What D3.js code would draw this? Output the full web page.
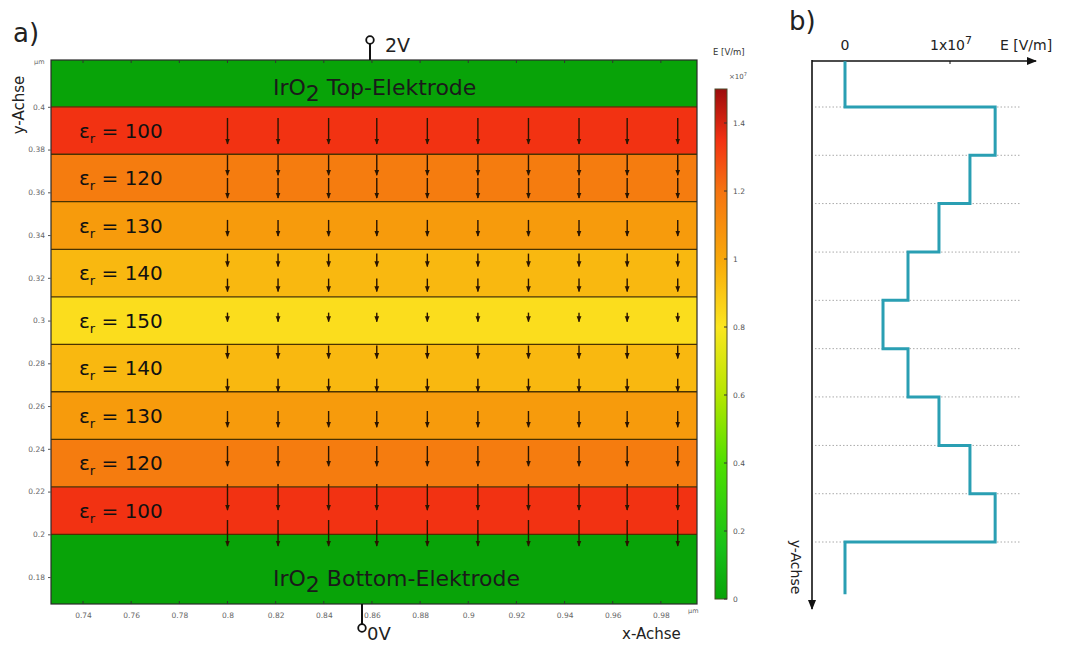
<!DOCTYPE html>
<html><head><meta charset="utf-8">
<script src="https://cdn.jsdelivr.net/npm/d3@7"></script>
<style>body{margin:0;background:#fff;} svg{display:block;font-family:"DejaVu Sans",sans-serif;}</style>
</head><body><svg id="c" width="1069" height="645"></svg>
<script>
// ---------- data ----------
const epsValues   = [100, 120, 130, 140, 150, 140, 130, 120, 100];
const layerBounds = [0.4, 0.3778, 0.3556, 0.3333, 0.3111, 0.2889, 0.2667, 0.2444, 0.2222, 0.2]; // µm
const layerField  = [1.35, 1.17, 1.05, 0.95, 0.83, 0.95, 1.05, 1.17, 1.35]; // E in 1e7 V/m (colour)
const xTicks  = [0.74, 0.76, 0.78, 0.8, 0.82, 0.84, 0.86, 0.88, 0.9, 0.92, 0.94, 0.96, 0.98];
const yTicks  = [0.18, 0.2, 0.22, 0.24, 0.26, 0.28, 0.3, 0.32, 0.34, 0.36, 0.38, 0.4];
const cbTicks = [0, 0.2, 0.4, 0.6, 0.8, 1, 1.2, 1.4];
const arrowX  = [0.8, 0.821, 0.842, 0.862, 0.883, 0.904, 0.925, 0.946, 0.966, 0.987];
const arrowY  = [0.3887, 0.3727, 0.362, 0.3433, 0.3283, 0.3166, 0.3016, 0.2853, 0.2698, 0.2539, 0.2366, 0.2174, 0.2006];
const profileE = [0, 1.43, 1.19, 0.895, 0.60, 0.362, 0.60, 0.895, 1.19, 1.43, 0]; // panel b, 1e7 V/m
const profileBounds = [0.421, 0.4, 0.3778, 0.3556, 0.3333, 0.3111, 0.2889, 0.2667, 0.2444, 0.2222, 0.2, 0.176];
const cmapStops  = [0, 0.15, 0.4, 0.6, 0.8, 1.0, 1.2, 1.35, 1.5];
const cmapColors = ["#08a308", "#18c018", "#4fdf00", "#b4e600", "#fbe620", "#f8a80a", "#f57410", "#f23212", "#9c0c0c"];

// ---------- setup ----------
const svg = d3.select("#c");
const cmap = d3.scaleLinear().domain(cmapStops).range(cmapColors).interpolate(d3.interpolateRgb);
const x = d3.scaleLinear().domain([0.7267, 0.995]).range([51, 697]);
const y = d3.scaleLinear().domain([0.4219, 0.1674]).range([60, 604]);
const cb = d3.scaleLinear().domain([0, 1.5]).range([599, 89]);
const lenScale = d3.scaleLinear().domain([0.83, 1.35]).range([9, 26]);

const defs = svg.append("defs");
defs.append("marker").attr("id", "ah").attr("viewBox", "0 0 10 10").attr("refX", 9).attr("refY", 5)
  .attr("markerWidth", 10).attr("markerHeight", 10).attr("markerUnits", "userSpaceOnUse").attr("orient", "auto")
  .append("path").attr("d", "M0,1 L10,5 L0,9 Z").attr("fill", "#111");
defs.append("marker").attr("id", "ahs").attr("viewBox", "0 0 10 10").attr("refX", 9).attr("refY", 5)
  .attr("markerWidth", 6).attr("markerHeight", 6).attr("markerUnits", "userSpaceOnUse").attr("orient", "auto")
  .append("path").attr("d", "M0,1 L10,5 L0,9 Z").attr("fill", "#2a1500");

// ---------- panel a ----------
const pa = svg.append("g");
pa.append("rect").attr("x", x.range()[0]).attr("y", y(y.domain()[0])).attr("width", x.range()[1] - x.range()[0])
  .attr("height", y(0.4) - y(y.domain()[0])).attr("fill", cmap(0));
pa.append("rect").attr("x", x.range()[0]).attr("y", y(0.2)).attr("width", x.range()[1] - x.range()[0])
  .attr("height", y(y.domain()[1]) - y(0.2)).attr("fill", cmap(0));
pa.selectAll("rect.layer").data(epsValues).join("rect").attr("class", "layer")
  .attr("x", x.range()[0]).attr("width", x.range()[1] - x.range()[0])
  .attr("y", (d, i) => y(layerBounds[i])).attr("height", (d, i) => y(layerBounds[i + 1]) - y(layerBounds[i]))
  .attr("fill", (d, i) => cmap(layerField[i]));
pa.selectAll("line.bd").data(layerBounds).join("line").attr("class", "bd")
  .attr("x1", x.range()[0]).attr("x2", x.range()[1]).attr("y1", d => y(d)).attr("y2", d => y(d))
  .attr("stroke", "#4a3200").attr("stroke-width", 1.3);

function layerIndex(v) {
  for (let i = 0; i < epsValues.length; i++) if (v <= layerBounds[i] && v >= layerBounds[i + 1]) return i;
  return v > 0.4 ? 0 : epsValues.length - 1;
}
const arrows = [];
arrowY.forEach(yy => arrowX.forEach(xx => arrows.push({ x: xx, y: yy, L: lenScale(layerField[layerIndex(yy)]) })));
pa.selectAll("line.ar").data(arrows).join("line").attr("class", "ar")
  .attr("x1", d => x(d.x)).attr("x2", d => x(d.x))
  .attr("y1", d => y(d.y) - d.L / 2).attr("y2", d => y(d.y) + d.L / 2)
  .attr("stroke", "#2a1500").attr("stroke-width", 1.4).attr("marker-end", "url(#ahs)");

epsValues.forEach((e, i) => {
  const cy = y((layerBounds[i] + layerBounds[i + 1]) / 2);
  const t = pa.append("text").attr("x", 79).attr("y", cy + 7).attr("font-size", 20).attr("fill", "#111");
  t.append("tspan").text("ε");
  t.append("tspan").attr("font-size", 13).attr("dy", 5).text("r");
  t.append("tspan").attr("dy", -5).text(" = " + e);
});
[["Top-Elektrode", y(0.4) - 12], ["Bottom-Elektrode", y(0.2) + 52]].forEach(([s, yy]) => {
  const t = pa.append("text").attr("x", 273).attr("y", yy).attr("font-size", 22).attr("fill", "#1a1a1a");
  t.append("tspan").text("IrO");
  t.append("tspan").attr("dy", 6).text("2");
  t.append("tspan").attr("dy", -6).text(" " + s);
});

pa.append("rect").attr("x", x.range()[0]).attr("y", y.range()[0]).attr("width", x.range()[1] - x.range()[0])
  .attr("height", y.range()[1] - y.range()[0]).attr("fill", "none").attr("stroke", "#2a2a2a").attr("stroke-width", 1.2);

const xAxis = pa.append("g").attr("transform", `translate(0,${y.range()[1]})`)
  .call(d3.axisBottom(x).tickValues(xTicks).tickSize(0).tickPadding(9).tickFormat(d3.format("")));
const yAxis = pa.append("g").attr("transform", `translate(${x.range()[0]},0)`)
  .call(d3.axisLeft(y).tickValues(yTicks).tickSize(3).tickPadding(3).tickFormat(d3.format("")));
[xAxis, yAxis].forEach(g => {
  g.select(".domain").remove();
  g.selectAll("text").attr("font-size", 7.5).attr("fill", "#666").attr("font-family", "DejaVu Sans");
  g.selectAll("line").attr("stroke", "#555");
});
pa.selectAll("line.tt").data(xTicks).join("line").attr("class", "tt")
  .attr("x1", d => x(d)).attr("x2", d => x(d)).attr("y1", y.range()[0]).attr("y2", y.range()[0] + 3).attr("stroke", "#333");
pa.selectAll("line.tb").data(xTicks).join("line").attr("class", "tb")
  .attr("x1", d => x(d)).attr("x2", d => x(d)).attr("y1", y.range()[1]).attr("y2", y.range()[1] - 3).attr("stroke", "#333");

pa.append("text").attr("x", 34).attr("y", 64).attr("font-size", 6.5).attr("fill", "#666").text("µm");
pa.append("text").attr("x", 688).attr("y", 613).attr("font-size", 6.5).attr("fill", "#666").text("µm");
pa.append("text").attr("x", 622).attr("y", 639).attr("font-size", 15).attr("fill", "#222").text("x-Achse");
pa.append("text").attr("transform", "translate(24,105) rotate(-90)").attr("text-anchor", "middle")
  .attr("font-size", 15).attr("fill", "#222").text("y-Achse");
pa.append("text").attr("x", 13).attr("y", 42).attr("font-size", 26).attr("fill", "#222").text("a)");

pa.append("line").attr("x1", 370).attr("x2", 370).attr("y1", 44).attr("y2", y.range()[0]).attr("stroke", "#111").attr("stroke-width", 2);
pa.append("circle").attr("cx", 370).attr("cy", 40).attr("r", 3.8).attr("fill", "#fff").attr("stroke", "#111").attr("stroke-width", 1.8);
pa.append("text").attr("x", 385).attr("y", 52).attr("font-size", 19).attr("fill", "#222").text("2V");
pa.append("line").attr("x1", 362).attr("x2", 362).attr("y1", y.range()[1]).attr("y2", 624).attr("stroke", "#111").attr("stroke-width", 2);
pa.append("circle").attr("cx", 362).attr("cy", 628).attr("r", 3.8).attr("fill", "#fff").attr("stroke", "#111").attr("stroke-width", 1.8);
pa.append("text").attr("x", 367).attr("y", 640).attr("font-size", 18).attr("fill", "#222").text("0V");

const grad = defs.append("linearGradient").attr("id", "cbg").attr("x1", 0).attr("x2", 0).attr("y1", 1).attr("y2", 0);
d3.range(0, 1.5001, 0.05).forEach(v => grad.append("stop").attr("offset", v / 1.5).attr("stop-color", cmap(v)));
pa.append("rect").attr("x", 715).attr("y", cb(1.5)).attr("width", 12).attr("height", cb(0) - cb(1.5))
  .attr("fill", "url(#cbg)").attr("stroke", "#4a4a2a").attr("stroke-width", 1);
const cbAxis = pa.append("g").attr("transform", "translate(727,0)")
  .call(d3.axisRight(cb).tickValues(cbTicks).tickSize(0).tickPadding(6).tickFormat(d3.format("")));
cbAxis.select(".domain").remove();
cbAxis.selectAll("text").attr("font-size", 7.5).attr("fill", "#555").attr("font-family", "DejaVu Sans");
pa.selectAll("line.cbt").data(cbTicks).join("line").attr("class", "cbt")
  .attr("x1", 724).attr("x2", 727).attr("y1", d => cb(d)).attr("y2", d => cb(d)).attr("stroke", "#333");
pa.append("text").attr("x", 713).attr("y", 55).attr("font-size", 8.5).attr("fill", "#333").text("E [V/m]");
const t7 = pa.append("text").attr("x", 729).attr("y", 79).attr("font-size", 7).attr("fill", "#555");
t7.append("tspan").text("×10");
t7.append("tspan").attr("dy", -3).attr("font-size", 5).text("7");

// ---------- panel b ----------
const pb = svg.append("g");
const xb = d3.scaleLinear().domain([0, 1]).range([845, 950]);
const yb = d3.scaleLinear().domain([0.4, 0.2]).range([107, 542]);
pb.append("text").attr("x", 789).attr("y", 30).attr("font-size", 26).attr("fill", "#222").text("b)");
pb.selectAll("line.dg").data(layerBounds).join("line").attr("class", "dg")
  .attr("x1", 815).attr("x2", 1020).attr("y1", d => yb(d)).attr("y2", d => yb(d))
  .attr("stroke", "#aaa").attr("stroke-width", 1).attr("stroke-dasharray", "1.5,2");
pb.append("line").attr("x1", 812).attr("x2", 1036).attr("y1", 61).attr("y2", 61).attr("stroke", "#111").attr("stroke-width", 1.6).attr("marker-end", "url(#ah)");
pb.append("line").attr("x1", 812).attr("x2", 812).attr("y1", 60).attr("y2", 609).attr("stroke", "#111").attr("stroke-width", 1.6).attr("marker-end", "url(#ah)");
pb.append("line").attr("x1", xb(1)).attr("x2", xb(1)).attr("y1", 61).attr("y2", 64).attr("stroke", "#111");
pb.append("text").attr("x", xb(0)).attr("y", 50).attr("text-anchor", "middle").attr("font-size", 14).attr("fill", "#222").text("0");
const t1 = pb.append("text").attr("x", xb(1) + 1).attr("y", 50).attr("text-anchor", "middle").attr("font-size", 14).attr("fill", "#222");
t1.append("tspan").text("1x10");
t1.append("tspan").attr("dy", -6).attr("font-size", 11).text("7");
pb.append("text").attr("x", 1000).attr("y", 50).attr("font-size", 14).attr("fill", "#222").text("E [V/m]");
pb.append("text").attr("transform", "translate(791,567) rotate(90)").attr("text-anchor", "middle")
  .attr("font-size", 14).attr("fill", "#222").text("y-Achse");
const pts = [];
profileE.forEach((e, i) => { pts.push([e, profileBounds[i]]); pts.push([e, profileBounds[i + 1]]); });
pb.append("path").datum(pts).attr("fill", "none").attr("stroke", "#2a9fb3").attr("stroke-width", 3)
  .attr("d", d3.line().x(d => xb(d[0])).y(d => yb(d[1])));
</script></body></html>
